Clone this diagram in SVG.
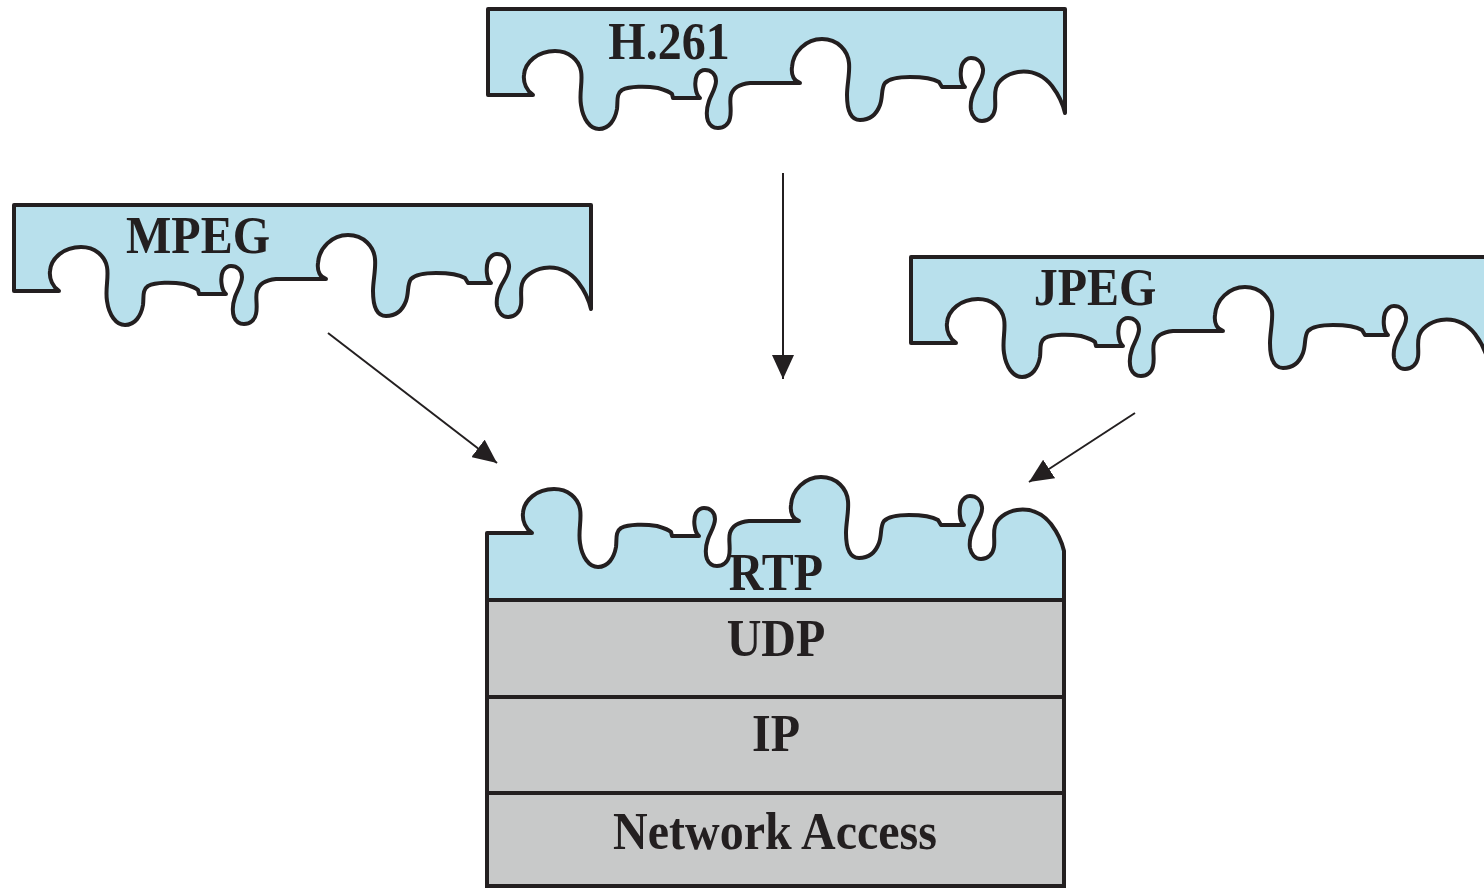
<svg xmlns="http://www.w3.org/2000/svg" xmlns:xlink="http://www.w3.org/1999/xlink" width="1484" height="889" viewBox="0 0 1484 889">
<style>
.tile{fill:#b8e0ec;stroke:#231f20;stroke-width:4;stroke-linejoin:round}
.layer{fill:#c8c9c9;stroke:#231f20;stroke-width:4}
.lbl{font-family:"Liberation Serif","Times New Roman",serif;font-weight:bold;font-size:48px;fill:#231f20;text-anchor:middle}
.conn{stroke:#231f20;stroke-width:2;fill:none}
</style>
<defs>
<path id="tileShape" d="M0,0 V86 H45 C39,82 35,74 36,66 C37,53 50,42 67,42 C81,42 91,51 93,62 C95,72 91,84 93,96 C95,110 102,120 111,120 C121,120 127,111 129,100 C130,92 128,85 134,81 C142,77 158,77 170,79 C177,81 182,83 184,85 L185,89 L212,89 C207,85 206,72 209,66 C211,63 214,61 217,61 C223,61 228,65 228,72 C228,79 223,86 221,92 C219,98 218,106 220,112 C222,117 226,119 230,119 C236,119 241,115 242,109 C244,101 241,92 243,86 C245,79 252,75 262,74 L312,74 C306,72 303,66 304,58 C305,43 318,30 334,30 C350,30 360,42 361,54 C362,64 359,76 359,86 C359,99 362,111 372,111 C383,111 389,104 392,96 C395,88 393,79 397,74 C401,70 410,68 422,68 C435,68 446,70 451,73 L454,78 L477,78 C472,74 472,62 474,56 C476,52 479,49 483,49 C489,49 494,53 495,60 C496,68 490,75 487,81 C484,87 482,94 483,101 C484,107 488,112 494,112 C501,112 506,107 507,100 C508,94 506,86 508,79 C510,72 518,65 530,63 C545,61 556,67 564,77 C570,85 575,95 577,104 V0 Z"/>
<marker id="ah" markerWidth="24" markerHeight="22" refX="24" refY="11" orient="auto" markerUnits="userSpaceOnUse">
<path d="M0,0 L24,11 L0,22 Z" fill="#231f20"/>
</marker>
</defs>

<g id="h261">
<use xlink:href="#tileShape" href="#tileShape" class="tile" transform="translate(488,9)"/>
<text class="lbl" transform="translate(669,59) scale(1,1.1)">H.261</text>
</g>

<g id="mpeg">
<use xlink:href="#tileShape" href="#tileShape" class="tile" transform="translate(14,205)"/>
<text class="lbl" transform="translate(198,253) scale(1,1.1)">MPEG</text>
</g>

<g id="jpeg">
<use xlink:href="#tileShape" href="#tileShape" class="tile" transform="translate(911,257)"/>
<text class="lbl" transform="translate(1095,305) scale(1,1.1)">JPEG</text>
</g>

<g id="rtp">
<path class="tile" transform="translate(487,447)" d="M0,153 V86 H45 C39,82 35,74 36,66 C37,53 50,42 67,42 C81,42 91,51 93,62 C95,72 91,84 93,96 C95,110 102,120 111,120 C121,120 127,111 129,100 C130,92 128,85 134,81 C142,77 158,77 170,79 C177,81 182,83 184,85 L185,89 L212,89 C207,85 206,72 209,66 C211,63 214,61 217,61 C223,61 228,65 228,72 C228,79 223,86 221,92 C219,98 218,106 220,112 C222,117 226,119 230,119 C236,119 241,115 242,109 C244,101 241,92 243,86 C245,79 252,75 262,74 L312,74 C306,72 303,66 304,58 C305,43 318,30 334,30 C350,30 360,42 361,54 C362,64 359,76 359,86 C359,99 362,111 372,111 C383,111 389,104 392,96 C395,88 393,79 397,74 C401,70 410,68 422,68 C435,68 446,70 451,73 L454,78 L477,78 C472,74 472,62 474,56 C476,52 479,49 483,49 C489,49 494,53 495,60 C496,68 490,75 487,81 C484,87 482,94 483,101 C484,107 488,112 494,112 C501,112 506,107 507,100 C508,94 506,86 508,79 C510,72 518,65 530,63 C545,61 556,67 564,77 C570,85 575,95 577,104 V153 Z"/>
<text class="lbl" transform="translate(776,590) scale(1,1.1)">RTP</text>
</g>

<g id="udp">
<rect class="layer" x="487" y="600" width="577" height="97"/>
<text class="lbl" transform="translate(776,656) scale(1,1.1)">UDP</text>
</g>

<g id="ip">
<rect class="layer" x="487" y="697" width="577" height="96"/>
<text class="lbl" transform="translate(776,751) scale(1,1.1)">IP</text>
</g>

<g id="network-access">
<rect class="layer" x="487" y="793" width="577" height="93"/>
<text class="lbl" transform="translate(775,849) scale(1,1.1)">Network Access</text>
</g>

<g id="connectors">
<line class="conn" x1="783" y1="173" x2="783" y2="379" marker-end="url(#ah)"/>
<line class="conn" x1="328" y1="333" x2="497" y2="463" marker-end="url(#ah)"/>
<line class="conn" x1="1135" y1="413" x2="1029" y2="482" marker-end="url(#ah)"/>
</g>
</svg>
